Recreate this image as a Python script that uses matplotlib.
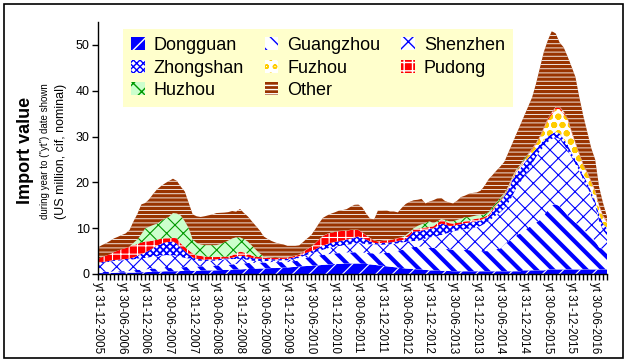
import matplotlib
matplotlib.use('Agg')
import matplotlib.pyplot as plt
from matplotlib.patches import Patch, Rectangle
import numpy as np

plt.rcParams['font.family'] = ['Liberation Sans', 'DejaVu Sans']

# monthly values, yt Dec 2005 .. Sep 2016 (US$ million)
dongguan = [
    .2, .2, .2, .2, .25, .3,  .3, .3, .3, .3, .35, .4,
    .4, .45, .5, .5, .55, .6,  .6, .6, .6, .65, .7, .7,
    .7, .7, .75, .75, .8, .8,  .8, .85, .9, .9, .95, 1.0,
    1.0, 1.05, 1.1, 1.1, 1.15, 1.2,  1.2, 1.25, 1.3, 1.3, 1.35, 1.4,
    1.4, 1.5, 1.55, 1.6, 1.7, 1.75,  1.8, 1.85, 1.9, 2.0, 2.05, 2.1,
    2.2, 2.2, 2.25, 2.3, 2.3, 2.3,  2.3, 2.25, 2.2, 2.1, 2.0, 1.9,
    1.8, 1.7, 1.6, 1.5, 1.4, 1.3,  1.2, 1.15, 1.1, 1.0, .95, .9,
    .8, .8, .75, .7, .7, .65,  .6, .6, .6, .6, .6, .6,
    .6, .6, .6, .6, .6, .6,  .6, .6, .6, .6, .6, .6,
    .8, .8, .8, .8, .8, .8,  1.0, 1.0, 1.0, 1.0, 1.0, 1.0,
    1.0, 1.0, 1.0, 1.0, 1.0, 1.0,  1.0, 1.0, 1.0, 1.0]
guangzhou = [
    .3, .3, .3, .3, .3, .3,  .3, .35, .4, .5, .55, .6,
    .6, .65, .7, .7, .7, .7,  .7, .7, .8, .8, .8, .9,
    .9, .9, .95, .95, 1.0, 1.0,  1.0, 1.05, 1.1, 1.1, 1.15, 1.2,
    1.2, 1.25, 1.3, 1.3, 1.3, 1.3,  1.3, 1.3, 1.3, 1.3, 1.25, 1.2,
    1.2, 1.25, 1.3, 1.4, 1.6, 1.8,  2.0, 2.1, 2.15, 2.2, 2.25, 2.3,
    2.3, 2.35, 2.35, 2.4, 2.4, 2.45,  2.5, 2.45, 2.4, 2.45, 2.5, 2.6,
    2.7, 2.9, 3.1, 3.3, 3.6, 4.0,  4.3, 4.6, 4.8, 5.0, 5.0, 4.95,
    4.9, 4.9, 4.85, 4.8, 4.8, 4.75,  4.7, 4.7, 4.7, 4.7, 4.6, 4.5,
    4.4, 4.4, 4.4, 4.4, 4.6, 4.8,  5.0, 5.8, 6.5, 7.1, 7.8, 8.3,
    8.8, 9.3, 9.8, 10.4, 11.0, 12.0,  13.0, 14.0, 14.2, 13.8, 12.8, 11.8,
    11.0, 10.2, 9.6, 8.8, 8.0, 7.3,  6.2, 4.8, 4.4, 4.3]
shenzhen = [
    1.7, 1.9, 2.0, 2.2, 2.3, 2.3,  2.4, 2.4, 2.4, 2.4, 2.45, 2.5,
    2.5, 2.55, 2.6, 2.7, 2.75, 2.8,  2.8, 2.8, 2.6, 2.3, 2.0, 1.8,
    1.5, 1.3, 1.2, 1.1, 1.1, 1.1,  1.1, 1.15, 1.2, 1.2, 1.15, 1.1,
    1.1, .9, .7, .5, .4, .35,  .3, .3, .3, .3, .35, .4,
    .4, .45, .5, .5, .6, .65,  .7, .8, .95, 1.1, 1.25, 1.4,
    1.5, 1.55, 1.6, 1.7, 1.8, 1.9,  2.0, 1.95, 1.9, 1.95, 2.0, 1.9,
    1.9, 1.85, 1.8, 1.8, 1.7, 1.6,  1.5, 1.4, 1.3, 1.2, 1.5, 1.9,
    2.3, 2.4, 2.7, 3.0, 3.3, 3.6,  4.0, 4.2, 4.3, 4.5, 4.7, 5.0,
    5.2, 5.5, 6.0, 6.5, 7.0, 7.5,  7.9, 7.9, 8.4, 9.3, 10.4, 11.1,
    11.7, 12.4, 13.4, 14.3, 15.0, 15.0,  14.8, 14.5, 14.6, 14.7, 14.5, 14.2,
    13.5, 12.8, 11.9, 10.7, 10.0, 8.7,  7.8, 5.7, 4.1, 3.2]
zhongshan = [
    .2, .2, .2, .2, .2, .2,  .2, .2, .3, .4, .6, .9,
    1.2, 1.5, 1.9, 2.3, 2.6, 2.8,  2.9, 3.0, 2.6, 2.0, 1.5, .9,
    .5, .4, .35, .3, .3, .3,  .3, .25, .2, .2, .3, .5,
    .7, .7, .65, .6, .55, .5,  .5, .4, .35, .3, .3, .3,
    .3, .3, .35, .4, .45, .5,  .5, .6, .8, .9, .95, 1.0,
    1.0, 1.05, 1.1, 1.1, 1.2, 1.3,  1.4, 1.2, 1.0, .6, .3, .3,
    .4, .4, .4, .4, .5, .5,  .6, 1.2, 2.1, 2.1, 2.0, 1.9,
    1.8, 1.9, 2.2, 2.5, 2.0, 1.5,  1.2, 1.2, 1.3, 1.3, 1.3, 1.3,
    1.3, 1.2, 1.1, 1.0, 1.5, 2.0,  2.5, 2.7, 3.0, 3.5, 3.2, 3.0,
    2.9, 2.8, 2.3, 1.8, 1.5, 1.4,  1.2, 1.1, 1.2, 1.2, 1.2, 1.3,
    1.0, 1.0, 1.0, 1.0, 1.0, 1.0,  1.0, 1.5, 1.5, 1.5]
fuzhou = [
    0, 0, 0, 0, 0, 0,  0, 0, 0, 0, 0, 0,
    0, 0, 0, 0, 0, 0,  0, 0, 0, 0, 0, 0,
    0, 0, 0, 0, 0, 0,  0, 0, 0, 0, 0, 0,
    0, 0, 0, 0, 0, 0,  0, 0, 0, 0, 0, 0,
    0, 0, 0, 0, 0, 0,  0, 0, 0, 0, 0, 0,
    0, 0, 0, 0, 0, 0,  0, 0, 0, 0, 0, 0,
    0, 0, 0, 0, 0, 0,  0, 0, 0, 0, 0, 0,
    0, 0, 0, 0, 0, 0,  0, 0, 0, 0, 0, 0,
    .1, .1, .1, .1, .1, .1,  .1, .1, .2, .2, .3, .3,
    .5, .6, .8, 1.0, 1.5, 2.5,  3.5, 4.2, 5.0, 5.3, 5.5, 5.5,
    4.5, 3.5, 2.5, 2.2, 2.0, 2.0,  2.0, 1.8, 1.5, 1.2]
pudong = [
    .9, 1.1, 1.3, 1.4, 1.7, 2.0,  2.2, 2.4, 2.6, 2.7, 2.6, 2.5,
    2.4, 2.0, 1.6, 1.3, 1.1, .9,  .8, .8, 1.2, .9, .9, .9,
    .9, .8, .7, .7, .6, .5,  .5, .45, .4, .4, .5, .7,
    .9, .8, .7, .5, .4, .35,  .3, .3, .3, .3, .3, .3,
    .3, .3, .3, .3, .5, .7,  .9, 1.3, 1.7, 2.1, 2.2, 2.2,
    2.2, 2.2, 2.1, 2.0, 1.9, 1.7,  1.4, 1.2, .9, .7, .5, .4,
    .4, .5, .5, .6, .6, .6,  .6, .5, .5, .6, .6, .5,
    .5, .4, .6, .8, .7, .6,  .5, .5, .4, .4, .4, .5,
    .5, .4, .3, .3, .3, .2,  .2, .2, .2, .2, .2, .2,
    .2, .2, .2, .2, .2, .2,  .4, .4, .4, .4, .4, .2,
    .2, .2, .2, .2, .2, .2,  .2, .2, .2, .2]
huzhou = [
    0, 0, 0, 0, 0, 0,  0, 0, 0, .5, 1.0, 1.8,
    2.9, 3.2, 3.4, 3.5, 3.9, 4.3,  4.7, 5.4, 5.4, 6.1, 5.6, 4.8,
    3.0, 2.7, 2.5, 2.5, 2.5, 2.6,  2.6, 2.8, 3.1, 3.5, 3.7, 3.5,
    3.1, 2.9, 2.6, 2.2, 1.5, .8,  .2, .1, .05, .05, .05, .05,
    .05, .05, .05, .05, .05, .05,  .05, .05, .05, .05, .05, .05,
    .05, .05, .05, .05, .05, .05,  .05, .05, .05, .05, .05, .05,
    .05, .05, .05, .05, .05, .05,  .3, .3, .2, .6, .8, 1.0,
    1.2, .7, .4, .2, .3, .4,  .5, .6, .8, .9, .8, .7,
    .7, .7, .6, .6, .5, .4,  .4, .3, .3, .3, .3, .3,
    .3, .1, .1, .1, .1, .1,  .1, .1, .1, .1, .1, .1,
    .1, .1, .1, .1, .1, .1,  .1, .1, .1, .1]
other = [
    2.5, 2.6, 2.7, 2.9, 3.0, 3.0,  3.1, 3.2, 3.6, 4.7, 5.6, 6.5,
    5.5, 6.0, 6.8, 7.5, 7.6, 7.7,  7.8, 7.5, 7.1, 6.3, 6.5, 5.5,
    5.5, 5.8, 6.0, 6.3, 6.5, 6.7,  7.0, 6.8, 6.5, 6.2, 6.0, 5.6,
    6.2, 5.7, 5.5, 5.3, 5.2, 5.0,  4.4, 4.0, 3.6, 3.3, 3.0, 2.8,
    2.5, 2.3, 2.1, 2.0, 2.1, 2.3,  2.5, 3.0, 3.5, 3.9, 4.0, 4.1,
    4.2, 4.4, 4.5, 4.6, 5.0, 5.4,  5.5, 5.4, 4.7, 4.2, 4.6, 6.8,
    6.7, 6.5, 6.2, 6.0, 5.6, 6.4,  6.8, 6.6, 6.1, 5.7, 5.55, 4.25,
    4.3, 5.0, 5.0, 4.6, 4.1, 4.1,  3.9, 4.2, 4.7, 4.7, 5.1, 5.1,
    5.0, 5.3, 6.2, 7.2, 7.0, 7.0,  6.8, 6.9, 7.3, 7.3, 7.7, 8.7,
    9.3, 10.3, 11.1, 12.9, 14.9, 16.5,  17.0, 17.7, 16.0, 14.0, 14.0, 13.4,
    14.0, 14.2, 12.2, 10.5, 8.7, 7.2,  6.7, 3.9, 2.7, 1.0]

names = ['Dongguan', 'Guangzhou', 'Shenzhen', 'Zhongshan', 'Fuzhou',
         'Pudong', 'Huzhou', 'Other']
tick_labels = ['yt 31-12-2005', 'yt 30-06-2006', 'yt 31-12-2006', 'yt 30-06-2007',
               'yt 31-12-2007', 'yt 30-06-2008', 'yt 31-12-2008', 'yt 30-06-2009',
               'yt 31-12-2009', 'yt 30-06-2010', 'yt 31-12-2010', 'yt 30-06-2011',
               'yt 31-12-2011', 'yt 30-06-2012', 'yt 31-12-2012', 'yt 30-06-2013',
               'yt 31-12-2013', 'yt 30-06-2014', 'yt 31-12-2014', 'yt 30-06-2015',
               'yt 31-12-2015', 'yt 30-06-2016']

# facecolor, hatch colour, hatch, hatch linewidth
styles = [
    ('#0000FF', 'white', '//', 0.8),
    ('white', '#0000FF', '\\\\', 3.0),
    ('white', '#0000FF', 'xx', 0.8),
    ('white', '#0000FF', 'xxxxx', 1.3),
    ('white', '#FFCC00', 'oo', 2.0),
    ('#FF0000', 'white', '++', 0.8),
    ('#CCFFCC', '#009900', 'xx', 0.8),
    ('#993300', 'white', '----', 0.6),
]

fig = plt.figure(figsize=(6.28, 3.62), dpi=100)
ax = fig.add_axes([98 / 628, 1 - 274 / 362, (607 - 98) / 628, (274 - 22) / 362])

series = [dongguan, guangzhou, shenzhen, zhongshan, fuzhou, pudong, huzhou, other]
x = np.arange(len(dongguan))
base = np.zeros(len(x))
handles = {}
for name, vals, (fc, hc, hatch, hlw) in zip(names, series, styles):
    top = base + np.array(vals, dtype=float)
    with plt.rc_context({'hatch.linewidth': hlw}):
        coll = ax.fill_between(x, base, top, facecolor=fc, edgecolor=hc,
                               hatch=hatch, linewidth=0)
        h = Patch(facecolor=fc, edgecolor=hc, hatch=hatch, linewidth=0)
    if hasattr(coll, 'set_hatch_linewidth'):
        coll.set_hatch_linewidth(hlw)
        h.set_hatch_linewidth(hlw)
    handles[name] = h
    base = top

ax.set_xlim(0, len(x) - 1)
ax.set_ylim(0, 55)
ax.set_yticks(range(0, 51, 10))
ax.tick_params(axis='y', labelsize=9, length=4, width=1, direction='out', pad=2)
labels = []
for i in range(len(x)):
    labels.append(tick_labels[i // 6] if i % 6 == 0 else '')
ax.set_xticks(x)
ax.set_xticklabels(labels, rotation=270, fontsize=8.3, ha='center', va='top')
ax.tick_params(axis='x', length=4, width=1, direction='out', pad=2)
for s in ['top', 'right']:
    ax.spines[s].set_visible(False)
for s in ['left', 'bottom']:
    ax.spines[s].set_linewidth(1)

order = ['Dongguan', 'Zhongshan', 'Huzhou', 'Guangzhou', 'Fuzhou', 'Other',
         'Shenzhen', 'Pudong']
leg = ax.legend([handles[n] for n in order], order, ncol=3, loc='upper left',
                bbox_to_anchor=(123 / 628, 1 - 29 / 362), bbox_transform=fig.transFigure,
                borderaxespad=0, fontsize=13, frameon=True, facecolor='#FFFFCC',
                edgecolor='none', fancybox=False, framealpha=1, handlelength=0.75,
                handleheight=0.75, handletextpad=0.5, columnspacing=1.15,
                labelspacing=0.3, borderpad=0.45)

fig.text(25 / 628, 1 - 150 / 362, 'Import value', rotation=90, fontsize=13,
         fontweight='bold', ha='center', va='center')
fig.text(45 / 628, 1 - 151 / 362, 'during year to ("yt") date shown', rotation=90,
         fontsize=7, ha='center', va='center')
fig.text(61 / 628, 1 - 151 / 362, '(US million, cif, nominal)', rotation=90,
         fontsize=9, ha='center', va='center')

fig.patches.append(Rectangle((4 / 628, 4 / 362), 619 / 628, 354 / 362, fill=False,
                             edgecolor='black', linewidth=1.2,
                             transform=fig.transFigure, figure=fig))

fig.savefig('out.png', dpi=100)
